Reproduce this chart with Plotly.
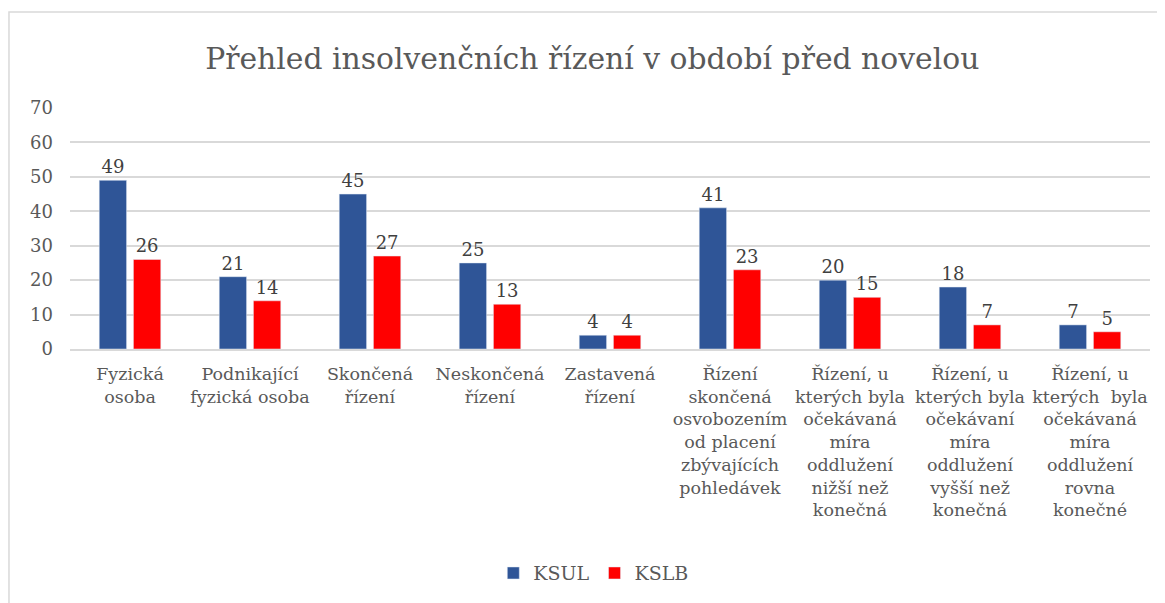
import plotly.graph_objects as go

categories = [
    "Fyzická<br>osoba",
    "Podnikající<br>fyzická osoba",
    "Skončená<br>řízení",
    "Neskončená<br>řízení",
    "Zastavená<br>řízení",
    "Řízení<br>skončená<br>osvobozením<br>od placení<br>zbývajících<br>pohledávek",
    "Řízení, u<br>kterých byla<br>očekávaná<br>míra<br>oddlužení<br>nižší než<br>konečná",
    "Řízení, u<br>kterých byla<br>očekávaní<br>míra<br>oddlužení<br>vyšší než<br>konečná",
    "Řízení, u<br>kterých  byla<br>očekávaná<br>míra<br>oddlužení<br>rovna<br>konečné",
]
ksul = [49, 21, 45, 25, 4, 41, 20, 18, 7]
kslb = [26, 14, 27, 13, 4, 23, 15, 7, 5]
y_ticks = [0, 10, 20, 30, 40, 50, 60, 70]

FONT = "DejaVu Serif"
GREY = "#595959"

fig = go.Figure()
fig.add_trace(go.Bar(x=categories, y=ksul, name="KSUL", marker_color="#2F5597",
                     text=ksul, textposition="outside", cliponaxis=False,
                     textfont=dict(family=FONT, size=18, color="#404040")))
fig.add_trace(go.Bar(x=categories, y=kslb, name="KSLB", marker_color="#FF0000",
                     text=kslb, textposition="outside", cliponaxis=False,
                     textfont=dict(family=FONT, size=18, color="#404040")))

fig.update_layout(
    width=1157, height=595,
    margin=dict(l=62, r=15, t=100, b=254, autoexpand=False),
    paper_bgcolor="white", plot_bgcolor="white",
    barmode="group", bargap=0.43, bargroupgap=0.2,
    font=dict(family=FONT, size=17, color=GREY),
    title=dict(text="Přehled insolvenčních řízení v období před novelou",
               x=0.505, xanchor="center", y=0.915, yanchor="middle",
               font=dict(family=FONT, size=29.8, color=GREY)),
    legend=dict(orientation="h", x=0.485, xanchor="center", y=-0.93, yanchor="middle",
                font=dict(family=FONT, size=19, color=GREY), itemwidth=30,
                traceorder="normal"),
    shapes=[dict(type="rect", xref="paper", yref="paper",
                 x0=-0.0565, x1=1.03, y0=-1.2, y1=1.398,
                 line=dict(color="#D9D9D9", width=1.5), fillcolor="rgba(0,0,0,0)",
                 layer="below")],
)
fig.update_yaxes(range=[0, 70], tickvals=y_ticks, showgrid=True, gridcolor="#D9D9D9",
                 gridwidth=1.5, zeroline=False, showline=False, ticks="",
                 automargin=False,
                 tickfont=dict(family=FONT, size=18, color=GREY), ticklabelstandoff=16)
fig.update_xaxes(showline=True, linecolor="#D9D9D9", linewidth=1.5, ticks="",
                 automargin=False, ticklabelstandoff=8,
                 tickangle=0, tickfont=dict(family=FONT, size=17.5, color=GREY))

fig.write_html("out.html")
